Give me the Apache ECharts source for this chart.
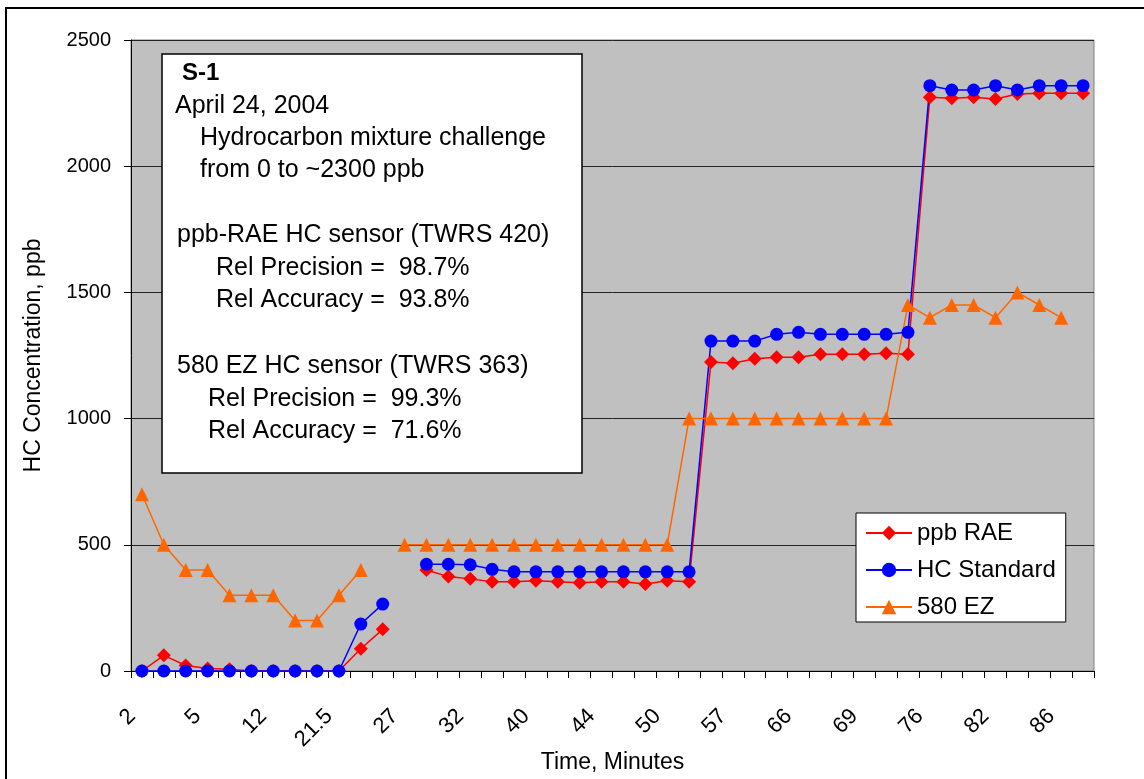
<!DOCTYPE html>
<html>
<head>
<meta charset="utf-8">
<script src="https://cdn.jsdelivr.net/npm/echarts@6/dist/echarts.min.js"></script>
<style>
  html, body { margin: 0; padding: 0; background: #fff; }
  #chart { width: 1144px; height: 779px; }
</style>
</head>
<body>
<div id="chart"></div>
<script>
// ---- data ----
const tickLabels = ['2', '5', '12', '21.5', '27', '32', '40', '44', '50', '57', '66', '69', '76', '82', '86'];
const categoryCount = 44;
const seriesNames = ['ppb RAE', 'HC Standard', '580 EZ'];
const ppbRAE = [0, 62, 22, 10, 7, 0, 0, 0, 0, 0, 88, 165, null,
  400, 374, 365, 354, 354, 358, 354, 350, 354, 354, 345, 358, 354,
  1224, 1219, 1237, 1243, 1243, 1255, 1255, 1255, 1259, 1255,
  2273, 2269, 2273, 2266, 2286, 2289, 2289, 2289];
const hcStandard = [0, 0, 0, 0, 0, 0, 0, 0, 0, 0, 186, 265, null,
  423, 423, 421, 403, 393, 393, 393, 393, 393, 393, 393, 393, 393,
  1307, 1307, 1307, 1334, 1342, 1334, 1334, 1334, 1334, 1342,
  2319, 2302, 2302, 2319, 2302, 2319, 2319, 2319];
const ez580 = [700, 500, 400, 400, 300, 300, 300, 200, 200, 300, 400, null,
  500, 500, 500, 500, 500, 500, 500, 500, 500, 500, 500, 500, 500,
  1000, 1000, 1000, 1000, 1000, 1000, 1000, 1000, 1000, 1000,
  1450, 1400, 1450, 1450, 1400, 1500, 1450, 1400, null];
const yTicks = [0, 500, 1000, 1500, 2000, 2500];
const noteTitle = 'S-1';
const noteLines = [
  'April 24, 2004',
  'Hydrocarbon mixture challenge',
  'from 0 to ~2300 ppb',
  'ppb-RAE HC sensor (TWRS 420)',
  'Rel Precision =  98.7%',
  'Rel Accuracy =  93.8%',
  '580 EZ HC sensor (TWRS 363)',
  'Rel Precision =  99.3%',
  'Rel Accuracy =  71.6%'
];

// ---- build categories (labels every 3rd category) ----
const categories = [];
for (let i = 0; i < categoryCount; i++) {
  categories.push(i % 3 === 0 ? (tickLabels[i / 3] || '') : '');
}

// ---- layout ----
const FONT = '"Liberation Sans", Arial, sans-serif';
const box = { x: 162, y: 54, w: 420, h: 419 };
const noteLayout = [
  { dx: 13, y: 106 }, { dx: 38, y: 138 }, { dx: 38, y: 170 },
  { dx: 15, y: 235 }, { dx: 54, y: 268 }, { dx: 54, y: 300 },
  { dx: 15, y: 366 }, { dx: 46, y: 399 }, { dx: 46, y: 431 }
];
const graphics = [
  { type: 'rect', z: 0, silent: true, shape: { x: 6, y: 8, width: 1200, height: 900 },
    style: { fill: 'none', stroke: '#000', lineWidth: 2 } },
  { type: 'rect', z: 10, shape: { x: box.x, y: box.y, width: box.w, height: box.h },
    style: { fill: '#fff', stroke: '#000', lineWidth: 1.5 } },
  { type: 'text', z: 11, x: box.x + 20, y: 73,
    style: { text: noteTitle, font: 'bold 24px ' + FONT, fill: '#000', verticalAlign: 'middle' } }
];
noteLines.forEach((t, i) => {
  graphics.push({ type: 'text', z: 11, x: box.x + noteLayout[i].dx, y: noteLayout[i].y,
    style: { text: t, font: '25px ' + FONT, fill: '#000', verticalAlign: 'middle' } });
});

const chart = echarts.init(document.getElementById('chart'), null, { renderer: 'canvas' });
const colors = ['#ff0000', '#0000ff', '#ff6600'];
const symbols = ['diamond', 'circle', 'triangle'];
const sizes = [14, 13, 14];
const dataSets = [ppbRAE, hcStandard, ez580];

chart.setOption({
  animation: false,
  backgroundColor: '#fff',
  textStyle: { fontFamily: FONT, color: '#000' },
  grid: { left: 131, right: 50, top: 40, bottom: 108, show: true,
    containLabel: false, outerBoundsMode: 'none',
    backgroundColor: '#c0c0c0', borderColor: '#808080', borderWidth: 1 },
  legend: {
    left: 856, top: 513, orient: 'vertical',
    backgroundColor: '#fff', borderColor: '#000', borderWidth: 1,
    padding: [8, 10, 3, 9], itemGap: 13, itemWidth: 46, itemHeight: 18,
    textStyle: { fontSize: 24, lineHeight: 24, color: '#000', fontFamily: FONT },
    data: seriesNames
  },
  xAxis: {
    type: 'category', data: categories, boundaryGap: true,
    name: 'Time, Minutes', nameLocation: 'middle', nameGap: 80, nameMoveOverlap: false,
    nameTextStyle: { fontSize: 23, color: '#000', fontFamily: FONT },
    axisLine: { show: true, lineStyle: { color: '#000', width: 1 } },
    axisTick: { show: true, interval: 0, length: 7, lineStyle: { color: '#000' } },
    axisLabel: { interval: 2, rotate: 45, fontSize: 22, color: '#000', margin: 32,
      padding: [0, 14, 0, 0], fontFamily: FONT },
    splitLine: { show: false }
  },
  yAxis: {
    type: 'value', min: yTicks[0], max: yTicks[yTicks.length - 1], interval: 500,
    name: 'HC Concentration, ppb', nameLocation: 'middle', nameGap: 86, nameMoveOverlap: false,
    nameTextStyle: { fontSize: 23, color: '#000', fontFamily: FONT },
    axisLine: { show: true, lineStyle: { color: '#000', width: 1 } },
    axisTick: { show: true, length: 7, lineStyle: { color: '#000' } },
    axisLabel: { fontSize: 20, color: '#000', margin: 20, fontFamily: FONT,
      formatter: v => String(v) },
    splitLine: { show: true, lineStyle: { color: '#222', width: 1 } }
  },
  series: dataSets.map((d, i) => ({
    name: seriesNames[i], type: 'line', data: d,
    symbol: symbols[i], symbolSize: sizes[i], showSymbol: true, showAllSymbol: true,
    connectNulls: false,
    lineStyle: { color: colors[i], width: 1.5 },
    itemStyle: { color: colors[i], borderWidth: 0 }
  })),
  graphic: graphics
});
</script>
</body>
</html>
